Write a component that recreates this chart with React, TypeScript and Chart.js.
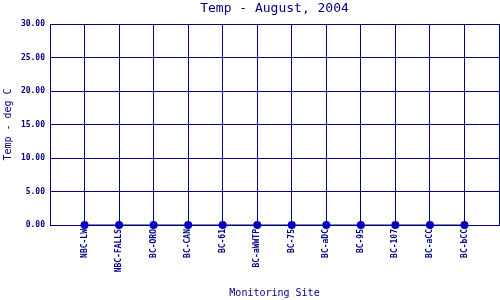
import React, { useEffect, useRef } from "react";
import { Chart, registerables } from "chart.js";

Chart.register(...registerables);

const sites: string[] = [
  "NBC-LW", "NBC-FALLS", "BC-ORO", "BC-CAN", "BC-61", "BC-aWWTP",
  "BC-75", "BC-aDC", "BC-95", "BC-107", "BC-aCC", "BC-bCC",
];
const temps: number[] = [0, 0, 0, 0, 0, 0, 0, 0, 0, 0, 0, 0];
const yTicks: number[] = [0, 5, 10, 15, 20, 25, 30];

const NAVY = "#000080";
const DOT = "#0000c0";
const MONO = "'DejaVu Sans Mono', 'Liberation Mono', monospace";

export default function App() {
  const ref = useRef<HTMLCanvasElement | null>(null);

  useEffect(() => {
    document.body.style.margin = "0";
    const canvas = ref.current;
    if (!canvas) return;
    const chart = new Chart(canvas, {
      type: "line",
      data: {
        datasets: [
          {
            data: temps.map((t, i) => ({ x: i + 1, y: t })),
            borderColor: NAVY,
            borderWidth: 1,
            backgroundColor: DOT,
            pointBackgroundColor: DOT,
            pointBorderColor: DOT,
            pointRadius: 4,
            pointBorderWidth: 0,
            showLine: true,
            clip: false,
          },
        ],
      },
      options: {
        animation: false,
        responsive: false,
        layout: { autoPadding: false, padding: { right: 1, left: 0, top: 0, bottom: 0 } },
        plugins: {
          legend: { display: false },
          tooltip: { enabled: false },
          title: {
            display: true,
            text: "Temp - August, 2004",
            color: NAVY,
            fullSize: false,
            font: { family: MONO, size: 13, weight: "normal" },
            padding: { top: 1, bottom: 7.4 },
          },
        },
        scales: {
          x: {
            type: "linear",
            min: 0,
            max: sites.length + 1,
            afterFit: (s: any) => {
              s.height = 75;
              s.paddingLeft = 0;
              s.paddingRight = 0;
            },
            afterBuildTicks: (s: any) => {
              s.ticks = Array.from({ length: sites.length + 2 }, (_, i) => ({ value: i }));
            },
            ticks: {
              autoSkip: false,
              stepSize: 1,
              minRotation: 90,
              maxRotation: 90,
              padding: 4,
              color: NAVY,
              font: { family: MONO, size: 8, weight: "bold" },
              callback: (v: any) => {
                const i = Math.round(Number(v));
                return i >= 1 && i <= sites.length ? sites[i - 1] : "";
              },
            },
            grid: { color: NAVY, lineWidth: 1, drawTicks: false },
            border: { color: NAVY, width: 1 },
            title: {
              display: true,
              text: "Monitoring Site",
              color: NAVY,
              font: { family: MONO, size: 10, weight: "normal" },
              padding: { top: 0, bottom: 1 },
            },
          },
          y: {
            type: "linear",
            min: 0,
            max: 30,
            afterFit: (s: any) => {
              s.width = 50;
              s.paddingTop = 0;
              s.paddingBottom = 0;
            },
            afterBuildTicks: (s: any) => {
              s.ticks = yTicks.map((v) => ({ value: v }));
            },
            ticks: {
              padding: 5,
              color: NAVY,
              font: { family: MONO, size: 8, weight: "bold" },
              callback: (v: any) => Number(v).toFixed(2),
            },
            grid: { color: NAVY, lineWidth: 1, drawTicks: false },
            border: { color: NAVY, width: 1 },
            title: {
              display: true,
              text: "Temp - deg C",
              color: NAVY,
              font: { family: MONO, size: 10, weight: "normal" },
              padding: { top: 2, bottom: 0 },
            },
          },
        },
      },
    });
    return () => chart.destroy();
  }, []);

  return (
    <div style={{ width: 500, height: 300, background: "#fff" }}>
      <canvas ref={ref} width={500} height={300} />
    </div>
  );
}
